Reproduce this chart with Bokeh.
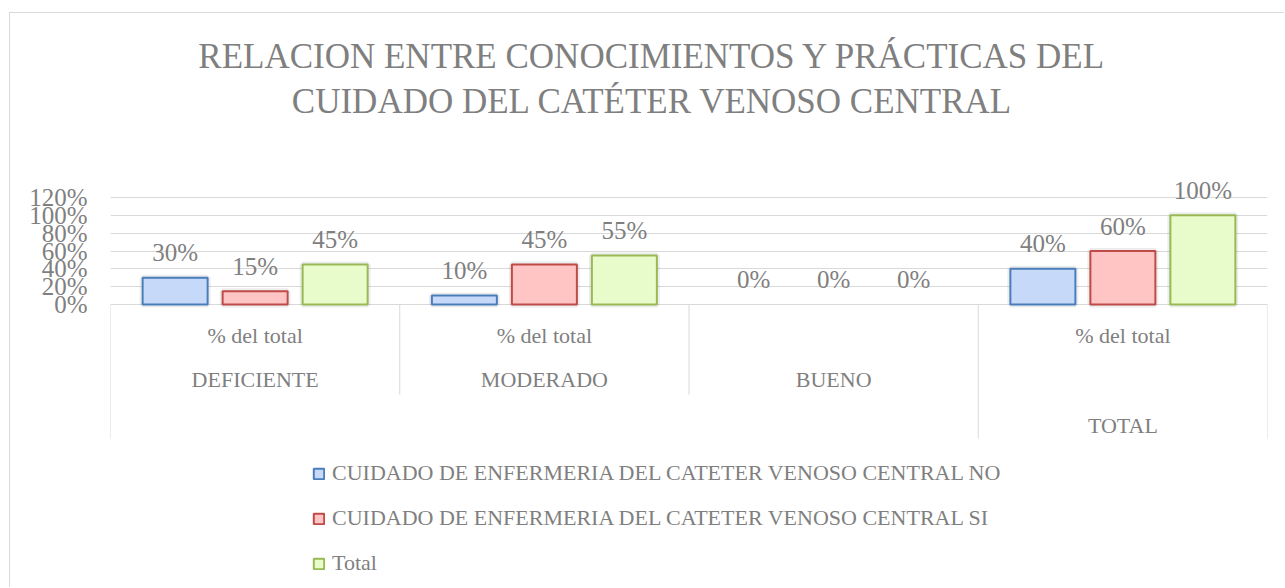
from bokeh.plotting import figure
from bokeh.models import FixedTicker, NumeralTickFormatter
from bokeh.core.properties import value
from bokeh.embed import file_html
from bokeh.resources import INLINE

# ---------------- data ----------------
title_lines = ["RELACION ENTRE CONOCIMIENTOS Y PRÁCTICAS DEL",
               "CUIDADO DEL CATÉTER VENOSO CENTRAL"]
level_inner = ["% del total", "% del total", "", "% del total"]
level_mid = ["DEFICIENTE", "MODERADO", "BUENO", ""]
level_outer = ["", "", "", "TOTAL"]
series_names = ["CUIDADO DE ENFERMERIA DEL CATETER VENOSO CENTRAL NO",
                "CUIDADO DE ENFERMERIA DEL CATETER VENOSO CENTRAL SI",
                "Total"]
values_no = [0.30, 0.10, 0.00, 0.40]
values_si = [0.15, 0.45, 0.00, 0.60]
values_total = [0.45, 0.55, 0.00, 1.00]
y_ticks = [0.0, 0.2, 0.4, 0.6, 0.8, 1.0, 1.2]

# ---------------- styling / layout ----------------
FONT = "Liberation Serif"
TXT = "#7f7f7f"
GRID = "#d9d9d9"
fills = ["#c6d9f9", "#ffc5c5", "#e8fbcb"]
lines = ["#4a7ebb", "#be4b48", "#98b954"]

BX, BY = 9, 12           # chart border position on page
OX, OY = BX + 1, BY + 1  # canvas origin on page
W, H = 1285 - OX, 588 - OY
FL, FR = 110, 1267       # plot frame left/right on page
Y0, Y120 = 304, 197      # page y of 0% and 120%
PPU = (Y0 - Y120) / 1.2
n = len(level_mid)
GW = (FR - FL) / n


def ydata(py):
    return (Y0 - py) / PPU


def xdata(px):
    return (px - FL) / GW


p = figure(width=W, height=H, x_range=(0, n),
           y_range=(ydata(OY + H), ydata(OY)),
           output_backend="svg", toolbar_location=None, tools="",
           title=None, x_axis_location=None,
           min_border_left=FL - OX, min_border_right=OX + W - FR,
           min_border_top=0, min_border_bottom=0)
p.styles = {"margin-left": f"{BX}px", "margin-top": f"{BY}px",
            "border-left": f"1px solid {GRID}", "border-top": f"1px solid {GRID}"}
p.outline_line_color = None
p.background_fill_color = "white"
p.border_fill_color = "white"

# y axis
ya = p.yaxis[0]
ya.ticker = FixedTicker(ticks=y_ticks)
ya.formatter = NumeralTickFormatter(format="0%")
ya.axis_line_color = None
ya.major_tick_line_color = None
ya.minor_tick_line_color = None
ya.major_tick_out = 0
ya.major_tick_in = 0
ya.major_label_standoff = 23
ya.major_label_text_font = FONT
ya.major_label_text_font_size = "25px"
ya.major_label_text_color = TXT

p.ygrid.ticker = FixedTicker(ticks=y_ticks)
p.ygrid.grid_line_color = GRID
p.ygrid.grid_line_width = 1
for g in p.xgrid:
    g.visible = False

# ---------------- title ----------------
p.text(x=[xdata(652)] * len(title_lines),
       y=[ydata(56), ydata(101)],
       text=title_lines, text_align="center", text_baseline="middle",
       text_font=value(FONT), text_font_size="35px", text_color=TXT)

# ---------------- category axis (multi-level) ----------------
levels = [level_inner, level_mid, level_outer]
row_center = [335, 379, 425]
row_bottom = [350, 394, 438]

p.segment(x0=[0], y0=[0], x1=[n], y1=[0], line_color=GRID, line_width=1)
sx, sy0, sy1 = [], [], []
for b in range(n + 1):
    if b == 0 or b == n:
        depth = len(levels) - 1
    else:
        depth = 0
        for k, lev in enumerate(levels):
            if lev[b - 1] != lev[b]:
                depth = k
    sx.append(b)
    sy0.append(0)
    sy1.append(ydata(row_bottom[depth]))
p.segment(x0=sx, y0=sy0, x1=sx, y1=sy1, line_color=GRID, line_width=1)

for k, lev in enumerate(levels):
    xs = [i + 0.5 for i, t in enumerate(lev) if t]
    ts = [t for t in lev if t]
    p.text(x=xs, y=[ydata(row_center[k])] * len(xs), text=ts,
           text_align="center", text_baseline="middle",
           text_font=value(FONT), text_font_size="22px", text_color=TXT)

# ---------------- bars ----------------
offsets = [-80 / GW, 0.0, 80 / GW]
bar_w = 65 / GW
series_vals = [values_no, values_si, values_total]
for j, vals in enumerate(series_vals):
    xs = [i + 0.5 + offsets[j] for i in range(n)]
    vis = [1.0 if v > 0 else 0.0 for v in vals]
    # soft shadow
    p.vbar(x=xs, top=vals, bottom=0, width=bar_w, fill_color=None,
           line_color="#000000", line_alpha=[0.07 * a for a in vis], line_width=6)
    p.vbar(x=xs, top=vals, bottom=0, width=bar_w, fill_color=fills[j],
           line_color=lines[j], line_alpha=vis, line_width=2,
           legend_label=series_names[j])
    p.text(x=xs, y=vals, text=[f"{v:.0%}" for v in vals],
           text_align="center", text_baseline="middle", y_offset=-25,
           text_font=value(FONT), text_font_size="25px", text_color=TXT)

# ---------------- legend ----------------
lg = p.legend[0]
lg.location = (202, 12)
lg.orientation = "vertical"
lg.border_line_color = None
lg.background_fill_alpha = 0
lg.padding = 0
lg.margin = 0
lg.spacing = 19
lg.label_standoff = 7
lg.glyph_width = 13
lg.glyph_height = 13
lg.label_height = 25
lg.label_text_font = FONT
lg.label_text_font_size = "22px"
lg.label_text_color = TXT

open("out.html", "w").write(file_html(p, INLINE))
